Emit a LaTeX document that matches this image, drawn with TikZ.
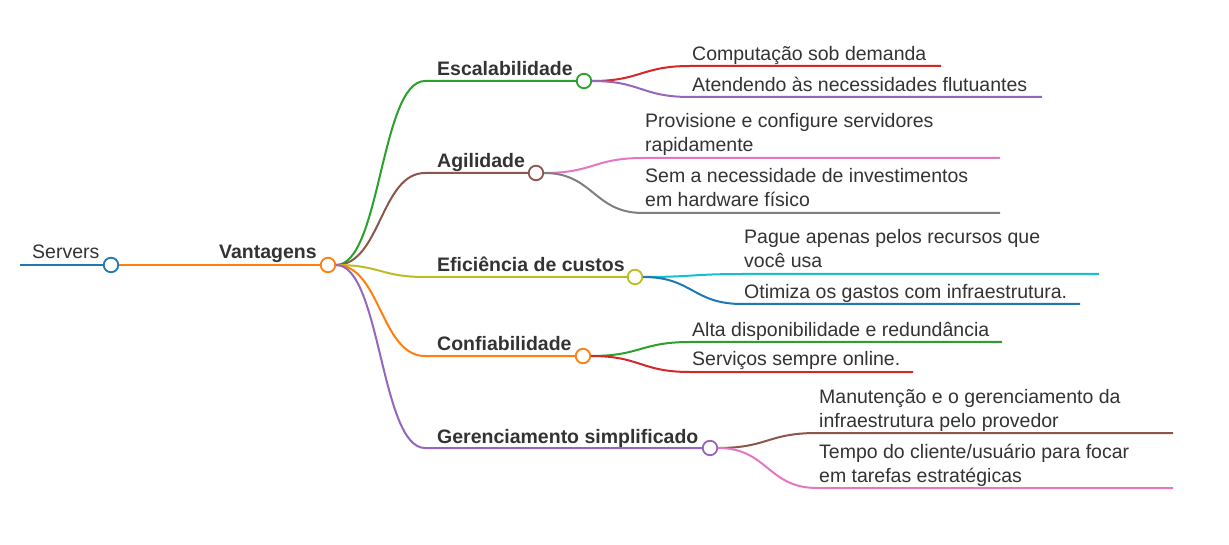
\documentclass[tikz,border=0pt]{standalone}
\usepackage{fontspec}
\setmainfont{Liberation Sans}
\usetikzlibrary{calc}
\definecolor{cblue}{HTML}{1F77B4}
\definecolor{corange}{HTML}{FF7F0E}
\definecolor{cgreen}{HTML}{2CA02C}
\definecolor{cred}{HTML}{D62728}
\definecolor{cpurple}{HTML}{9467BD}
\definecolor{cbrown}{HTML}{8C564B}
\definecolor{cpink}{HTML}{E377C2}
\definecolor{cgray}{HTML}{7F7F7F}
\definecolor{colive}{HTML}{BCBD22}
\definecolor{ccyan}{HTML}{17BECF}
\definecolor{txt}{HTML}{333333}
\tikzset{
  dot/.style={circle, draw=#1, fill=white, line width=1.8pt, minimum size=14.5pt, inner sep=0pt},
  edge/.style={draw=#1, line width=2pt},
  link/.style={to path={.. controls ($(\tikztostart)!0.5!(\tikztotarget|-\tikztostart)$) and ($(\tikztotarget)!0.5!(\tikztostart|-\tikztotarget)$) .. (\tikztotarget) \tikztonodes}},
  lbl/.style={anchor=base west, inner sep=0pt, text=txt, font=\fontsize{19.5}{24}\selectfont, align=left},
  blbl/.style={lbl, font=\fontsize{19.5}{24}\selectfont\bfseries},
}
\begin{document}
\begin{tikzpicture}[x=1pt,y=-1pt]
\useasboundingbox[fill=white] (0,0) rectangle (1229,545);
% root
\node[dot=cblue] (srv) at (111,265) {};
\coordinate (srvL) at (20,265);
\draw[edge=cblue] (srvL) -- (srv.west);
\node[lbl] (srvT) at (32,259) {Servers};
\node[dot=corange] (van) at (328,265) {};
\draw[edge=corange] (srv.east) -- (van.west);
\node[blbl] (vanT) at (219,259) {Vantagens};
% level 2 dots
\node[dot=cgreen] (esc) at (584,81) {};
\node[dot=cbrown] (agi) at (536,173) {};
\node[dot=colive] (efi) at (635,277) {};
\node[dot=corange] (con) at (583,356) {};
\node[dot=cpurple] (ger) at (710,448) {};
\coordinate (escS) at (425,81);
\coordinate (agiS) at (425,173);
\coordinate (efiS) at (425,277);
\coordinate (conS) at (425,356);
\coordinate (gerS) at (425,448);
\draw[edge=cgreen] (van.east) to[link] (escS) -- (esc.west);
\draw[edge=cbrown] (van.east) to[link] (agiS) -- (agi.west);
\draw[edge=colive] (van.east) to[link] (efiS) -- (efi.west);
\draw[edge=corange] (van.east) to[link] (conS) -- (con.west);
\draw[edge=cpurple] (van.east) to[link] (gerS) -- (ger.west);
\node[blbl] (escT) at (437,76) {Escalabilidade};
\node[blbl] (agiT) at (437,168) {Agilidade};
\node[blbl] (efiT) at (437,272) {Eficiência de custos};
\node[blbl] (conT) at (437,351) {Confiabilidade};
\node[blbl] (gerT) at (437,443) {Gerenciamento simplificado};
% level 3
\coordinate (e1S) at (690,66);  \coordinate (e1E) at (941,66);
\coordinate (e2S) at (690,97);  \coordinate (e2E) at (1042,97);
\coordinate (a1S) at (643,158); \coordinate (a1E) at (1000,158);
\coordinate (a2S) at (643,213); \coordinate (a2E) at (1000,213);
\coordinate (f1S) at (742,274); \coordinate (f1E) at (1099,274);
\coordinate (f2S) at (742,304); \coordinate (f2E) at (1080,304);
\coordinate (c1S) at (690,342); \coordinate (c1E) at (1002,342);
\coordinate (c2S) at (690,372); \coordinate (c2E) at (913,372);
\coordinate (g1S) at (817,433); \coordinate (g1E) at (1173,433);
\coordinate (g2S) at (817,488); \coordinate (g2E) at (1173,488);
\draw[edge=cred]    (esc.east) to[link] (e1S) -- (e1E);
\draw[edge=cpurple] (esc.east) to[link] (e2S) -- (e2E);
\draw[edge=cpink]   (agi.east) to[link] (a1S) -- (a1E);
\draw[edge=cgray]   (agi.east) to[link] (a2S) -- (a2E);
\draw[edge=ccyan]   (efi.east) to[link] (f1S) -- (f1E);
\draw[edge=cblue]   (efi.east) to[link] (f2S) -- (f2E);
\draw[edge=cgreen]  (con.east) to[link] (c1S) -- (c1E);
\draw[edge=cred]    (con.east) to[link] (c2S) -- (c2E);
\draw[edge=cbrown]  (ger.east) to[link] (g1S) -- (g1E);
\draw[edge=cpink]   (ger.east) to[link] (g2S) -- (g2E);
\node[lbl] (e1T) at (692,61) {Computação sob demanda};
\node[lbl] (e2T) at (692,92) {Atendendo às necessidades flutuantes};
\node[lbl] (a1T) at (645,152) {Provisione e configure servidores\\rapidamente};
\node[lbl] (a2T) at (645,207) {Sem a necessidade de investimentos\\em hardware físico};
\node[lbl] (f1T) at (744,268) {Pague apenas pelos recursos que\\você usa};
\node[lbl] (f2T) at (744,299) {Otimiza os gastos com infraestrutura.};
\node[lbl] (c1T) at (692,337) {Alta disponibilidade e redundância};
\node[lbl] (c2T) at (692,366) {Serviços sempre online.};
\node[lbl] (g1T) at (819,427) {Manutenção e o gerenciamento da\\infraestrutura pelo provedor};
\node[lbl] (g2T) at (819,482) {Tempo do cliente/usuário para focar\\em tarefas estratégicas};
\end{tikzpicture}
\end{document}
